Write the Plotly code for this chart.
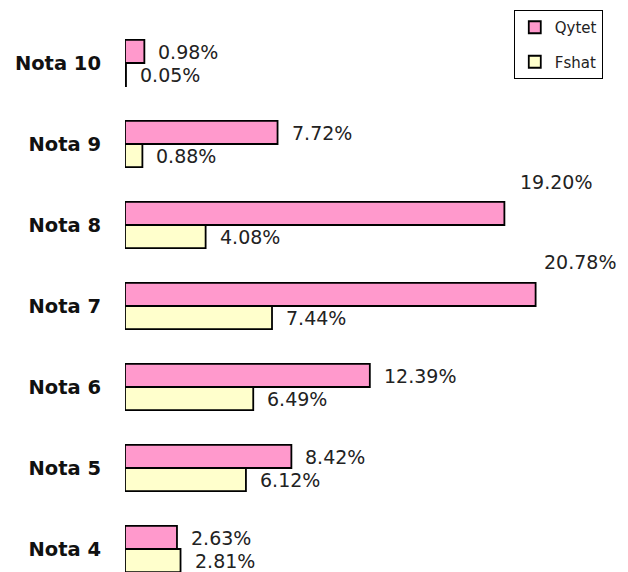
import plotly.graph_objects as go

categories = ["Nota 4", "Nota 5", "Nota 6", "Nota 7", "Nota 8", "Nota 9", "Nota 10"]
qytet = [2.63, 8.42, 12.39, 20.78, 19.20, 7.72, 0.98]
fshat = [2.81, 6.12, 6.49, 7.44, 4.08, 0.88, 0.05]
series_names = ["Qytet", "Fshat"]

PINK = "#FF99CC"
YELLOW = "#FFFFCC"
TEXT_FONT = dict(family="DejaVu Sans", size=19, color="#222222")

fig = go.Figure()
fig.add_trace(go.Bar(
    y=categories, x=fshat, orientation="h", name=series_names[1],
    marker=dict(color=YELLOW, line=dict(color="#000000", width=1.8)),
    legendrank=2, legendgroup="b",
))
fig.add_trace(go.Bar(
    y=categories, x=qytet, orientation="h", name=series_names[0],
    marker=dict(color=PINK, line=dict(color="#000000", width=1.8)),
    legendrank=1, legendgroup="a",
))

# value labels (two labels lifted above their bars, as in the original)
lifted = {"Nota 7": (6, 33), "Nota 8": (14, 32)}
annotations = []
for cat, q, f in zip(categories, qytet, fshat):
    dx, dy = lifted.get(cat, (12, 0))
    annotations.append(dict(
        x=q, y=cat, yref="y", xref="x", text=f"{q:.2f}%", showarrow=False,
        xanchor="left", yanchor="middle", xshift=dx, yshift=11.5 + dy, font=TEXT_FONT,
    ))
    annotations.append(dict(
        x=f, y=cat, yref="y", xref="x", text=f"{f:.2f}%", showarrow=False,
        xanchor="left", yanchor="middle", xshift=12, yshift=-11.5, font=TEXT_FONT,
    ))

fig.update_layout(
    width=628, height=572,
    margin=dict(l=125, r=8.5, t=0, b=0, autoexpand=False),
    paper_bgcolor="white", plot_bgcolor="white",
    barmode="group", bargap=0.43, bargroupgap=0,
    showlegend=True,
    legend=dict(
        x=0.787, y=0.9825, xanchor="left", yanchor="top",
        bordercolor="#000000", borderwidth=1, bgcolor="white",
        font=dict(family="DejaVu Sans", size=15, color="#222222"),
        traceorder="grouped", tracegroupgap=12,
    ),
    xaxis=dict(range=[0, 25], showgrid=False, zeroline=False, showline=False,
               showticklabels=False, ticks="", automargin=False),
    yaxis=dict(range=[-0.284, 6.778], showgrid=False, zeroline=False, showline=False,
               ticks="", ticklabelstandoff=23, automargin=False,
               tickfont=dict(family="DejaVu Sans", size=19.5, color="#111111", weight="bold")),
    annotations=annotations,
)

fig.write_html("out.html", config={"displayModeBar": False},
               post_script="document.body.style.margin='0';")
